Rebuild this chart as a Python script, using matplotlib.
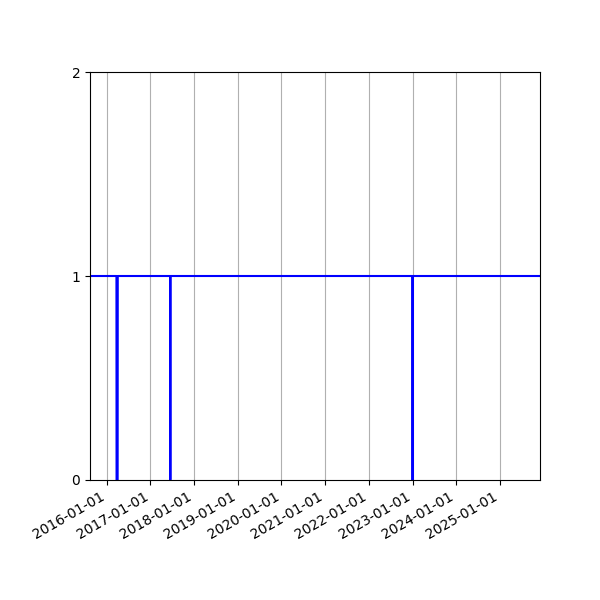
import pandas as pd
import matplotlib.pyplot as plt
import matplotlib.dates as mdates

# Series span and the days the status dropped to 0
start_date = "2015-08-15"
end_date = "2025-12-01"
outage_starts = ["2016-03-24", "2017-06-16", "2023-01-01"]
outage_ends = ["2016-04-02", "2017-06-17", "2023-01-01"]
base_value = 1
outage_value = 0

days = pd.date_range(start_date, end_date, freq="D")
status = pd.Series(base_value, index=days)
for s, e in zip(outage_starts, outage_ends):
    status[s:e] = outage_value

fig, ax = plt.subplots(figsize=(6, 6), dpi=100)
ax.plot(status.index, status.values, color="blue", linewidth=1.5)

ax.set_xlim(days[0], days[-1])
ax.set_ylim(0, 2)
ax.set_yticks([0, 1, 2])
ax.xaxis.set_major_locator(mdates.YearLocator())
ax.xaxis.set_major_formatter(mdates.DateFormatter("%Y-%m-%d"))
ax.grid(True, axis="x")
fig.autofmt_xdate()
fig.subplots_adjust(left=0.15, right=0.9, top=0.88, bottom=0.2)

plt.savefig("out.png", dpi=100)
